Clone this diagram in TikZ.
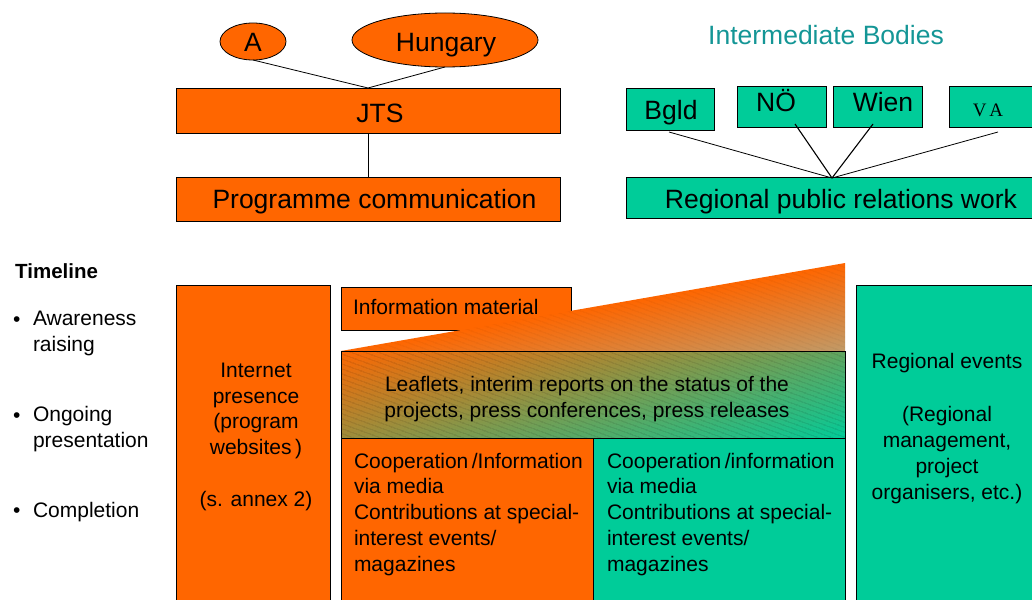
\documentclass[tikz,border=0pt]{standalone}
\usepackage{fontspec}
\setmainfont{Liberation Sans}
\newfontfamily\vafont{Liberation Serif}
\usetikzlibrary{shapes.geometric,calc,patterns.meta}
\definecolor{orangeC}{RGB}{255,102,0}
\definecolor{greenC}{RGB}{0,204,153}
\definecolor{tealT}{RGB}{20,150,150}
\definecolor{tanC}{RGB}{192,155,105}
\definecolor{leafMid}{RGB}{180,146,98}
\tikzset{
  obox/.style={draw=black, line width=0.8pt, fill=orangeC, inner sep=0pt, outer sep=0pt},
  gbox/.style={draw=black, line width=0.8pt, fill=greenC, inner sep=0pt, outer sep=0pt},
  bigtxt/.style={inner sep=0pt, outer sep=0pt, font=\fontsize{26.5}{32}\selectfont},
  smltxt/.style={inner sep=0pt, outer sep=0pt, font=\fontsize{21}{25.7}\selectfont},
  link/.style={draw=black, line width=0.8pt},
}
\begin{document}
\begin{tikzpicture}[x=1pt,y=-1pt]
\clip (0,0) rectangle (1032,599);
\fill[white] (0,0) rectangle (1032,599);

% ---------- top left ----------
\node[obox, ellipse, minimum width=66pt, minimum height=37pt] (a) at (253,41.5) {};
\node[bigtxt, anchor=base] (aT) at (253,52) {A};
\node[obox, ellipse, minimum width=186pt, minimum height=54pt] (hu) at (445,40) {};
\node[bigtxt, anchor=base] (huT) at (446,52) {Hungary};
\node[obox, minimum width=384pt, minimum height=45pt] (jts) at (368,110.5) {};
\node[bigtxt, anchor=base] (jtsT) at (380,122) {JTS};
\node[obox, minimum width=384pt, minimum height=44pt] (prog) at (368,199) {};
\node[bigtxt, anchor=base] (progT) at (374.5,208) {Programme communication};
\draw[link] (a.south) -- (jts.north);
\draw[link] (hu.south) -- (jts.north);
\draw[link] (jts.south) -- (prog.north);

% ---------- top right ----------
\node[bigtxt, text=tealT, anchor=base] (ib) at (826,45) {Intermediate Bodies};
\node[gbox, minimum width=88pt, minimum height=42pt] (bg) at (670,109) {};
\node[bigtxt, anchor=base] (bgT) at (671,120) {Bgld};
\node[gbox, minimum width=89pt, minimum height=41pt] (no) at (781.5,106.5) {};
\node[bigtxt, anchor=base] (noT) at (776,111) {NÖ};
\node[gbox, minimum width=89pt, minimum height=41pt] (wi) at (877.5,106.5) {};
\node[bigtxt, anchor=base] (wiT) at (883,111) {Wien};
\node[gbox, minimum width=86pt, minimum height=41pt] (va) at (992,106.5) {};
\node[inner sep=0pt, font=\vafont\fontsize{19}{22}\selectfont, anchor=base] (vaT) at (988,117) {V\hspace{3pt}A};
\node[gbox, minimum width=409pt, minimum height=41pt] (rel) at (830.5,197.5) {};
\node[bigtxt, anchor=base] (relT) at (841,208) {Regional public relations work};
\coordinate (meet) at (832,178);
\draw[link] ($(bg.south)+(-1,2)$) -- (meet);
\draw[link, line width=1.1pt] ($(no.south)+(13.5,-3)$) -- (meet);
\draw[link, line width=1.1pt] ($(wi.south)+(-4.5,-3)$) -- (meet);
\draw[link] ($(va.south)+(6,5)$) -- (meet);

% ---------- timeline ----------
\node[inner sep=0pt, font=\bfseries\fontsize{20.5}{24}\selectfont, anchor=base west] (tl) at (15,278) {Timeline};
\node[smltxt, anchor=base west] (b1) at (13,326) {•};
\node[smltxt, anchor=base west, align=left] (t1) at (33,351) {Awareness\\raising};
\node[smltxt, anchor=base west] (b2) at (13,422) {•};
\node[smltxt, anchor=base west, align=left] (t2) at (33,447) {Ongoing\\presentation};
\node[smltxt, anchor=base west] (b3) at (13,517) {•};
\node[smltxt, anchor=base west, align=left] (t3) at (33,517) {Completion};

% ---------- internet ----------
\node[obox, minimum width=154pt, minimum height=320pt, anchor=north west] (inet) at (176,285) {};
\node[smltxt, anchor=base, align=center] (inetT) at (256,506) {Internet\\presence\\(program\\websites\,)\\[25.7pt](s. annex 2)};

% ---------- information material + wedge ----------
\node[obox, minimum width=230pt, minimum height=43pt, anchor=north west] (info) at (341,287) {};
\coordinate (wL) at (341,351);
\coordinate (wT) at (845,263);
\coordinate (wB) at (845,351);
\begin{scope}
  \clip (wL) -- (wT) -- (wB) -- cycle;
  \begin{scope}[transform canvas={shift={(593,307)}, rotate=9.9}]
    \shade[top color=orangeC, middle color=orangeC!72!tanC, bottom color=tanC] (-300,0) rectangle (300,88);
  \end{scope}
  \fill[pattern={Lines[angle=-20,distance=4pt,line width=1.2pt]}, pattern color=black, opacity=0.05]
    (wL) -- (wT) -- (wB) -- cycle;
\end{scope}
\node[smltxt, anchor=base west] (infoT) at (353,314) {Information material};

% ---------- leaflets ----------
\node[minimum width=504pt, minimum height=87pt, anchor=north west, inner sep=0pt, outer sep=0pt] (leaf) at (341,351) {};
\begin{scope}
  \clip (leaf.north west) rectangle (leaf.south east);
  \begin{scope}[transform canvas={shift={(593,394.5)}, rotate=15.7}]
    \shade[top color=orangeC, middle color=leafMid, bottom color=greenC] (-320,-110.5) rectangle (320,110.5);
  \end{scope}
  \fill[pattern={Lines[angle=-20,distance=4pt,line width=1.3pt]}, pattern color=black, opacity=0.13]
    (leaf.north west) rectangle (leaf.south east);
\end{scope}
\draw[link] (leaf.north west) rectangle (leaf.south east);
\node[smltxt, anchor=base, align=center] (leafT) at (587,417) {Leaflets, interim reports on the status of the\\projects, press conferences, press releases};

% ---------- cooperation boxes ----------
\node[obox, minimum width=252pt, minimum height=170pt, anchor=north west] (coopA) at (341,438) {};
\node[gbox, minimum width=252pt, minimum height=170pt, anchor=north west] (coopB) at (593,438) {};
\node[smltxt, anchor=base west, align=left] (coopAT) at (354,571) {Cooperation\,/Information\\via media\\Contributions at special-\\interest events/\\magazines};
\node[smltxt, anchor=base west, align=left] (coopBT) at (607,571) {Cooperation\,/information\\via media\\Contributions at special-\\interest events/\\magazines};

% ---------- regional events ----------
\node[gbox, minimum width=180pt, minimum height=320pt, anchor=north west] (rev) at (856,285) {};
\node[smltxt, anchor=base, align=center] (revT) at (947,499) {Regional events\\[28pt](Regional\\management,\\project\\organisers, etc.)};
\end{tikzpicture}
\end{document}
